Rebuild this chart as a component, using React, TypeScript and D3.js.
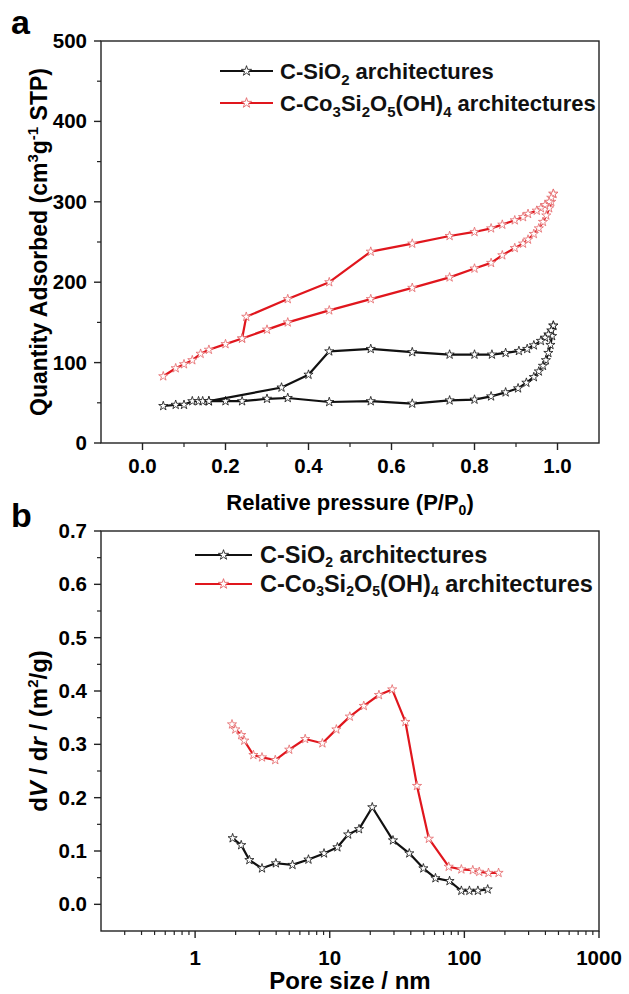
import React from 'react';
import * as d3 from 'd3';

// ---------- Data (panel a: N2 isotherms) ----------
const siO2AdsP = [0.05, 0.08, 0.10, 0.12, 0.135, 0.145, 0.16, 0.20, 0.24, 0.30, 0.35, 0.45, 0.55, 0.65, 0.74, 0.80, 0.84, 0.875, 0.905, 0.925, 0.943, 0.955, 0.965, 0.972, 0.978, 0.983, 0.987, 0.99];
const siO2AdsQ = [46, 47.5, 47.5, 52, 52, 52, 52, 52, 52, 55, 56, 51, 52, 49, 53, 54, 58, 63, 68, 75, 82, 89, 96, 103, 112, 122, 133, 146];
const siO2DesP = [0.99, 0.985, 0.978, 0.97, 0.96, 0.943, 0.927, 0.907, 0.875, 0.842, 0.80, 0.74, 0.65, 0.55, 0.45, 0.40, 0.335, 0.16];
const siO2DesQ = [146, 140, 135, 131, 127, 121.5, 117, 114.5, 112, 110, 110, 110, 113, 117, 114, 85, 69, 52];

const coAdsP = [0.05, 0.08, 0.10, 0.12, 0.14, 0.16, 0.20, 0.24, 0.30, 0.35, 0.45, 0.55, 0.65, 0.74, 0.80, 0.84, 0.867, 0.897, 0.917, 0.929, 0.943, 0.955, 0.965, 0.973, 0.98, 0.985, 0.99];
const coAdsQ = [83, 93, 98, 103, 111, 116, 123, 130, 141, 150, 165, 179, 193, 206, 217, 224, 233.5, 242.5, 248, 253, 260, 267, 275, 283, 292, 300, 310];
const coDesP = [0.99, 0.985, 0.98, 0.97, 0.96, 0.95, 0.929, 0.917, 0.897, 0.867, 0.84, 0.80, 0.74, 0.65, 0.55, 0.45, 0.35, 0.25, 0.24];
const coDesQ = [310, 305, 300, 296, 292, 289, 285, 281, 277, 271.6, 267, 262.5, 257.5, 248, 238, 200, 179, 157, 130];

// ---------- Data (panel b: pore size distribution) ----------
const siO2PoreX = [1.9, 2.2, 2.53, 3.14, 3.98, 5.29, 6.95, 9.07, 11.4, 13.7, 16.5, 20.7, 29.5, 39, 49.6, 61, 77.6, 95, 109, 126, 149];
const siO2PoreY = [0.124, 0.111, 0.083, 0.0675, 0.077, 0.074, 0.084, 0.0955, 0.107, 0.131, 0.141, 0.182, 0.12, 0.0956, 0.0675, 0.049, 0.0437, 0.0255, 0.0255, 0.0255, 0.028];
const coPoreX = [1.88, 1.99, 2.2, 2.32, 2.71, 3.14, 3.94, 5.0, 6.57, 8.82, 11.2, 14.1, 17.9, 23.2, 29.1, 36.5, 44.5, 54.5, 76.5, 95, 115.5, 129, 151, 179.5];
const coPoreY = [0.3375, 0.328, 0.3175, 0.307, 0.28, 0.2756, 0.2706, 0.29, 0.31, 0.302, 0.328, 0.352, 0.372, 0.3925, 0.403, 0.342, 0.222, 0.123, 0.0705, 0.0656, 0.064, 0.061, 0.059, 0.059];

// ---------- Ticks ----------
const aXTicks = [0.0, 0.2, 0.4, 0.6, 0.8, 1.0];
const aXMinor = [0.1, 0.3, 0.5, 0.7, 0.9];
const aYTicks = [0, 100, 200, 300, 400, 500];
const aYMinor = [50, 150, 250, 350, 450];
const bXTicks = [1, 10, 100, 1000];
const bYTicks = [0.0, 0.1, 0.2, 0.3, 0.4, 0.5, 0.6, 0.7];
const bYMinor = [0.05, 0.15, 0.25, 0.35, 0.45, 0.55, 0.65];

const W = 629;
const H = 994;
const FONT = '"Liberation Sans", Arial, Helvetica, sans-serif';
const RED = '#e0161d';
const RED_MK = '#e4676a';
const BLACK = '#111';

const starPath = d3.symbol().type(d3.symbolStar).size(26)() as string;
const legendStar = d3.symbol().type(d3.symbolStar).size(32)() as string;

function Series({ xs, ys, x, y, color, mk }: any) {
  const pts: [number, number][] = xs.map((v: number, i: number) => [x(v), y(ys[i])]);
  const line = d3.line()(pts) as string;
  return (
    <g>
      <path d={line} fill="none" stroke={color} strokeWidth={2.2} strokeLinejoin="round" />
      {pts.map((p, i) => (
        <path key={i} d={starPath} transform={`translate(${p[0]},${p[1]})`} fill="#fff" stroke={mk} strokeWidth={0.8} />
      ))}
    </g>
  );
}

function Legend({ x0, x1, xt, y0, y1, fs, sub, sd }: any) {
  const mid = (x0 + x1) / 2;
  return (
    <g fontFamily={FONT} fontWeight="bold" fontSize={fs} fill="#111">
      <line x1={x0} x2={x1} y1={y0} y2={y0} stroke={BLACK} strokeWidth={2.2} />
      <path d={legendStar} transform={`translate(${mid},${y0})`} fill="#fff" stroke={BLACK} strokeWidth={0.8} />
      <text x={xt} y={y0 + 8}>
        C-SiO<tspan fontSize={sub} dy={sd}>2</tspan><tspan dy={-sd}> architectures</tspan>
      </text>
      <line x1={x0} x2={x1} y1={y1} y2={y1} stroke={RED} strokeWidth={2.2} />
      <path d={legendStar} transform={`translate(${mid},${y1})`} fill="#fff" stroke={RED_MK} strokeWidth={0.9} />
      <text x={xt} y={y1 + 8}>
        C-Co<tspan fontSize={sub} dy={sd}>3</tspan><tspan dy={-sd}>Si</tspan><tspan fontSize={sub} dy={sd}>2</tspan><tspan dy={-sd}>O</tspan><tspan fontSize={sub} dy={sd}>5</tspan><tspan dy={-sd}>(OH)</tspan><tspan fontSize={sub} dy={sd}>4</tspan><tspan dy={-sd}> architectures</tspan>
      </text>
    </g>
  );
}

export default function App() {
  const a = { left: 101, right: 599, top: 41, bottom: 443 };
  const b = { left: 101, right: 599, top: 531, bottom: 931 };
  const xA = d3.scaleLinear().domain([-0.1, 1.1]).range([a.left, a.right]);
  const yA = d3.scaleLinear().domain([0, 500]).range([a.bottom, a.top]);
  const xB = d3.scaleLog().domain([0.2, 1000]).range([b.left, b.right]);
  const yB = d3.scaleLinear().domain([-0.05, 0.7]).range([b.bottom, b.top]);

  const bXMinor: number[] = [];
  [0.1, 1, 10, 100].forEach((d) => {
    for (let k = 2; k <= 9; k++) {
      const v = k * d;
      if (v > 0.2 && v < 1000) bXMinor.push(v);
    }
  });

  const fmt1 = d3.format('.1f');
  const TL = 7;
  const TS = 4;
  const tickFs = 20.5;
  const axisColor = '#222';

  return (
    <svg width={W} height={H} style={{ position: 'absolute', left: 0, top: 0, background: '#fff' }}>
      <rect width={W} height={H} fill="#fff" />
      {/* ---------- Panel a ---------- */}
      <text x={11} y={34} fontFamily={FONT} fontWeight="bold" fontSize={34}>a</text>
      <rect x={a.left} y={a.top} width={a.right - a.left} height={a.bottom - a.top} fill="none" stroke={axisColor} strokeWidth={1.4} />
      {aYTicks.map((t) => (
        <g key={'ay' + t}>
          <line x1={a.left - TL} x2={a.left} y1={yA(t)} y2={yA(t)} stroke={axisColor} strokeWidth={1.4} />
          <text x={a.left - 14} y={yA(t) + 7} textAnchor="end" fontFamily={FONT} fontWeight="bold" fontSize={tickFs}>{t}</text>
        </g>
      ))}
      {aYMinor.map((t) => (
        <line key={'aym' + t} x1={a.left - TS} x2={a.left} y1={yA(t)} y2={yA(t)} stroke={axisColor} strokeWidth={1.2} />
      ))}
      {aXTicks.map((t) => (
        <g key={'ax' + t}>
          <line x1={xA(t)} x2={xA(t)} y1={a.bottom} y2={a.bottom + TL} stroke={axisColor} strokeWidth={1.4} />
          <text x={xA(t)} y={473} textAnchor="middle" fontFamily={FONT} fontWeight="bold" fontSize={tickFs}>{fmt1(t)}</text>
        </g>
      ))}
      {aXMinor.map((t) => (
        <line key={'axm' + t} x1={xA(t)} x2={xA(t)} y1={a.bottom} y2={a.bottom + TS} stroke={axisColor} strokeWidth={1.2} />
      ))}
      <text x={(a.left + a.right) / 2} y={510} textAnchor="middle" fontFamily={FONT} fontWeight="bold" fontSize={22}>
        Relative pressure (P/P<tspan fontSize={14} dy={5}>0</tspan><tspan dy={-5}>)</tspan>
      </text>
      <text transform={`translate(47,${(a.top + a.bottom) / 2}) rotate(-90)`} textAnchor="middle" fontFamily={FONT} fontWeight="bold" fontSize={23}>
        Quantity Adsorbed (cm<tspan fontSize={15} dy={-9}>3</tspan><tspan dy={9}>g</tspan><tspan fontSize={15} dy={-9}>-1</tspan><tspan dy={9}> STP)</tspan>
      </text>

      <Series xs={siO2AdsP} ys={siO2AdsQ} x={xA} y={yA} color={BLACK} mk={BLACK} />
      <Series xs={siO2DesP} ys={siO2DesQ} x={xA} y={yA} color={BLACK} mk={BLACK} />
      <Series xs={coAdsP} ys={coAdsQ} x={xA} y={yA} color={RED} mk={RED_MK} />
      <Series xs={coDesP} ys={coDesQ} x={xA} y={yA} color={RED} mk={RED_MK} />

      <Legend x0={220} x1={273} xt={280} y0={71} y1={103} fs={22} sub={15} sd={6} />

      {/* ---------- Panel b ---------- */}
      <text x={11} y={527} fontFamily={FONT} fontWeight="bold" fontSize={34}>b</text>
      <rect x={b.left} y={b.top} width={b.right - b.left} height={b.bottom - b.top} fill="none" stroke={axisColor} strokeWidth={1.4} />
      {bYTicks.map((t) => (
        <g key={'by' + t}>
          <line x1={b.left - TL} x2={b.left} y1={yB(t)} y2={yB(t)} stroke={axisColor} strokeWidth={1.4} />
          <text x={b.left - 14} y={yB(t) + 7} textAnchor="end" fontFamily={FONT} fontWeight="bold" fontSize={tickFs}>{fmt1(t)}</text>
        </g>
      ))}
      {bYMinor.map((t) => (
        <line key={'bym' + t} x1={b.left - TS} x2={b.left} y1={yB(t)} y2={yB(t)} stroke={axisColor} strokeWidth={1.2} />
      ))}
      {bXTicks.map((t) => (
        <g key={'bx' + t}>
          <line x1={xB(t)} x2={xB(t)} y1={b.bottom} y2={b.bottom + TL} stroke={axisColor} strokeWidth={1.4} />
          <text x={xB(t)} y={965} textAnchor="middle" fontFamily={FONT} fontWeight="bold" fontSize={tickFs}>{t}</text>
        </g>
      ))}
      {bXMinor.map((t) => (
        <line key={'bxm' + t} x1={xB(t)} x2={xB(t)} y1={b.bottom} y2={b.bottom + TS} stroke={axisColor} strokeWidth={1.2} />
      ))}
      <text x={(b.left + b.right) / 2} y={989} textAnchor="middle" fontFamily={FONT} fontWeight="bold" fontSize={24}>Pore size / nm</text>
      <text transform={`translate(47,${(b.top + b.bottom) / 2}) rotate(-90)`} textAnchor="middle" fontFamily={FONT} fontWeight="bold" fontSize={24}>
        d<tspan fontStyle="italic">V</tspan> / d<tspan fontStyle="italic">r</tspan> / (m<tspan fontSize={15} dy={-9}>2</tspan><tspan dy={9}>/g)</tspan>
      </text>

      <Series xs={siO2PoreX} ys={siO2PoreY} x={xB} y={yB} color={BLACK} mk={BLACK} />
      <Series xs={coPoreX} ys={coPoreY} x={xB} y={yB} color={RED} mk={RED_MK} />

      <Legend x0={195} x1={252} xt={260} y0={555} y1={584} fs={23.5} sub={14} sd={4} />
    </svg>
  );
}
